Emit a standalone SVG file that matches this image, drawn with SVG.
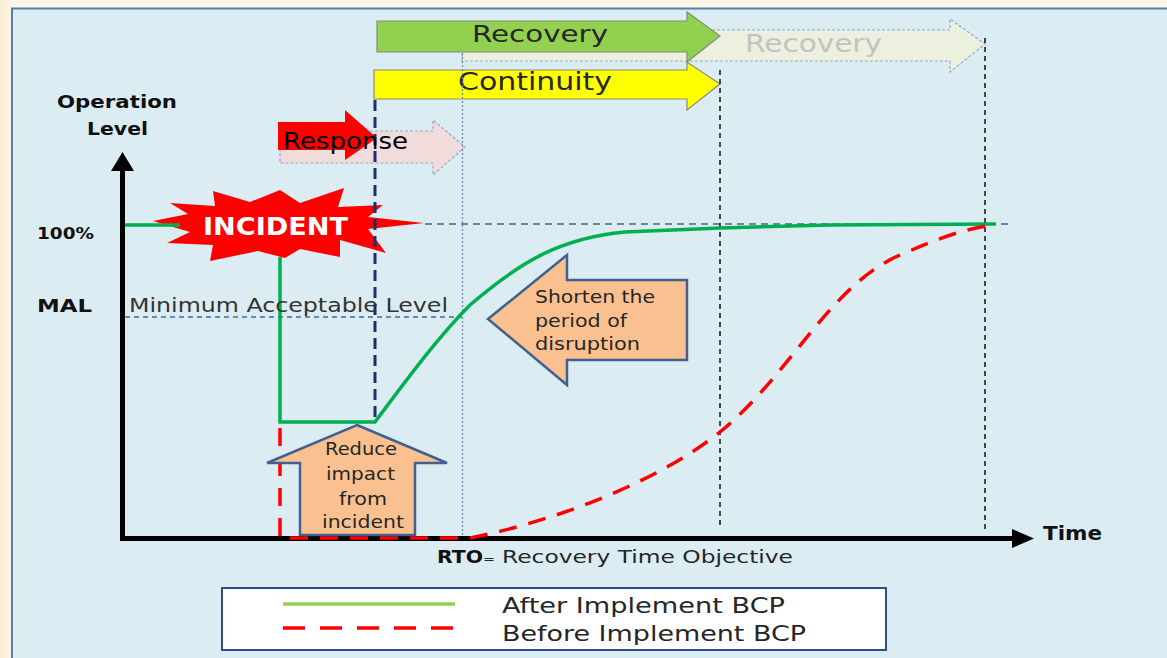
<svg xmlns="http://www.w3.org/2000/svg" width="1167" height="658" viewBox="0 0 1167 658">
<defs>
<linearGradient id="cream" x1="0" y1="0" x2="1" y2="0">
<stop offset="0" stop-color="#f9edd2"/><stop offset="1" stop-color="#fdf7ea"/>
</linearGradient>
<style>
.t{font-family:"DejaVu Sans","Liberation Sans",sans-serif;fill:#262626}
.b{font-weight:bold;fill:#111}
.ghost{stroke:#8fa9c9;stroke-width:1.2;stroke-dasharray:3,2}
.green{fill:none;stroke:#00b050;stroke-width:3.5}
.red{fill:none;stroke:#ff0000;stroke-width:3.5;stroke-dasharray:18,12}
.callout{fill:#fac090;stroke:#41608f;stroke-width:2.5;stroke-linejoin:miter}
</style>
</defs>
<rect x="0" y="0" width="1167" height="658" fill="#fdf6e8"/>
<rect x="0" y="0" width="14" height="658" fill="url(#cream)"/>
<rect x="12" y="8.5" width="1170" height="660" fill="#dbedf3" stroke="#5b7ba9" stroke-width="2"/>

<g id="recovery-ghost">
<polygon class="ghost" points="462,30 950,30 950,19 985,44 950,72 950,61 462,61" fill="#ebf1de"/>
<text class="t" x="745" y="52" font-size="24" style="fill:#c3c3c3" textLength="137" lengthAdjust="spacingAndGlyphs">Recovery</text>
</g>

<g id="incident">
<polygon points="153,221 188,214 170,203 215,206 213,191 250,202 280,190 300,203 344,188 338,207 383,205 368,217 424,223 368,229 386,253 340,240 340,257 300,249 285,258 258,251 210,261 213,245 167,243 190,232" fill="#ff0000"/>
<text class="t" x="203" y="235" font-size="24" font-weight="bold" style="fill:#ffffff" textLength="145" lengthAdjust="spacingAndGlyphs">INCIDENT</text>
</g>

<g id="response">
<polygon class="ghost" points="280,131 433,131 433,120 465,147 433,175 433,163 280,163" fill="#f2dcdb"/>
<polygon points="278,122 345,122 345,110 377,138 345,160 345,150 278,150" fill="#ff0000"/>
</g>

<g id="recovery">
<polygon points="377,21 687,21 687,12 720,36 687,62 687,52 377,52" fill="#92d050" stroke="#7f8f77" stroke-width="1.2"/>
<text class="t" x="472" y="42" font-size="23" textLength="136" lengthAdjust="spacingAndGlyphs">Recovery</text>
</g>

<g id="continuity">
<polygon points="374,70 687,70 687,62 720,84 687,110 687,99 374,99" fill="#ffff00" stroke="#8c8c6a" stroke-width="1.2"/>
<text class="t" x="458" y="90" font-size="24" textLength="154" lengthAdjust="spacingAndGlyphs">Continuity</text>
</g>

<g id="connectors">
<line x1="425" y1="224" x2="1010" y2="224" stroke="#4a6794" stroke-width="1.3" stroke-dasharray="7,5"/>
<line x1="125" y1="317" x2="462" y2="317" stroke="#4a6794" stroke-width="1.3" stroke-dasharray="5,4"/>
<line x1="462.5" y1="53" x2="462.5" y2="537" stroke="#6f8bb5" stroke-width="1.3" stroke-dasharray="2,2"/>
<line x1="720" y1="70" x2="720" y2="528" stroke="#111" stroke-width="1.5" stroke-dasharray="5,4"/>
<line x1="985" y1="38" x2="985" y2="532" stroke="#111" stroke-width="1.5" stroke-dasharray="5,4"/>
<line x1="375" y1="100" x2="375" y2="423" stroke="#1b2f6b" stroke-width="3" stroke-dasharray="11,6"/>
<line x1="122.5" y1="168" x2="122.5" y2="540" stroke="#000" stroke-width="5"/>
<polygon points="111,171 122.5,152 134,171" fill="#000"/>
<line x1="120" y1="538.5" x2="1015" y2="538.5" stroke="#000" stroke-width="5"/>
<polygon points="1012,529 1034,538.5 1012,548" fill="#000"/>
<path class="green" d="M125,225 H180 M280,257 V422 H375 C410,375 440,335 470,305 C520,262 560,238 625,232 L720,228 L830,225 L996,224"/>
<path class="red" d="M280,428 V538 H470 C560,520 660,480 720,432 C790,375 830,285 900,255 C940,238 960,230 992,225"/>
</g>

<g id="response-label">
<text class="t" x="283" y="149" font-size="23" style="fill:#000" textLength="125" lengthAdjust="spacingAndGlyphs">Response</text>
</g>

<g id="axis-labels">
<text class="t b" x="57" y="108" font-size="17" textLength="120" lengthAdjust="spacingAndGlyphs">Operation</text>
<text class="t b" x="87" y="135" font-size="17" textLength="61" lengthAdjust="spacingAndGlyphs">Level</text>
<text class="t b" x="37" y="239" font-size="15" textLength="57" lengthAdjust="spacingAndGlyphs">100%</text>
<text class="t b" x="37" y="312" font-size="18" textLength="55" lengthAdjust="spacingAndGlyphs">MAL</text>
<text class="t b" x="1043" y="540" font-size="19" textLength="59" lengthAdjust="spacingAndGlyphs">Time</text>
<text class="t" x="129" y="312" font-size="20" style="fill:#333" textLength="319" lengthAdjust="spacingAndGlyphs">Minimum Acceptable Level</text>
<text class="t" y="563" font-size="17"><tspan class="b" x="437" textLength="46" lengthAdjust="spacingAndGlyphs">RTO</tspan><tspan x="483" font-size="11" textLength="12" lengthAdjust="spacingAndGlyphs">=</tspan><tspan x="502" textLength="291" lengthAdjust="spacingAndGlyphs">Recovery Time Objective</tspan></text>
</g>

<g id="shorten">
<polygon class="callout" points="488,319 567,255 567,280 687,280 687,360 567,360 567,385"/>
<text class="t" font-size="18"><tspan x="535" y="303" textLength="120" lengthAdjust="spacingAndGlyphs">Shorten the</tspan><tspan x="535" y="327" textLength="92" lengthAdjust="spacingAndGlyphs">period of</tspan><tspan x="535" y="350" textLength="105" lengthAdjust="spacingAndGlyphs">disruption</tspan></text>
</g>

<g id="reduce">
<polygon class="callout" points="357,425 447,463 415,463 415,535 300,535 300,463 267,463"/>
<text class="t" font-size="17"><tspan x="325" y="455" textLength="72" lengthAdjust="spacingAndGlyphs">Reduce</tspan><tspan x="326" y="480" textLength="69" lengthAdjust="spacingAndGlyphs">impact</tspan><tspan x="339" y="505" textLength="48" lengthAdjust="spacingAndGlyphs">from</tspan><tspan x="322" y="528" textLength="82" lengthAdjust="spacingAndGlyphs">incident</tspan></text>
</g>

<g id="legend">
<rect x="222" y="588" width="664" height="62" fill="#ffffff" stroke="#2f4f8a" stroke-width="2"/>
<line x1="283" y1="604" x2="455" y2="604" stroke="#92d050" stroke-width="3.5"/>
<line x1="283" y1="628" x2="455" y2="628" stroke="#ff0000" stroke-width="3.5" stroke-dasharray="22,15"/>
<text class="t" x="502" y="613" font-size="21" textLength="283" lengthAdjust="spacingAndGlyphs">After Implement BCP</text>
<text class="t" x="502" y="641" font-size="21" textLength="304" lengthAdjust="spacingAndGlyphs">Before Implement BCP</text>
</g>
</svg>
